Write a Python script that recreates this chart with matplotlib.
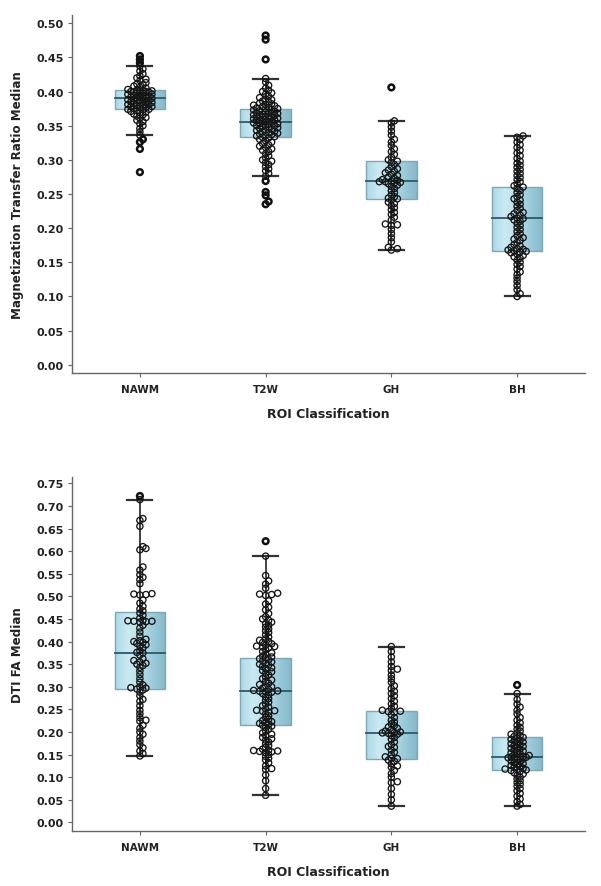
import numpy as np
import matplotlib
matplotlib.use("Agg")
import matplotlib.pyplot as plt
from matplotlib.patches import Rectangle
from matplotlib.colors import LinearSegmentedColormap

# ---------------- data ----------------
categories = ["NAWM", "T2W", "GH", "BH"]

NAWM_MTR = [0.282, 0.316, 0.326, 0.330,
            0.336, 0.341, 0.346, 0.350, 0.353, 0.356, 0.358, 0.361, 0.362, 0.364, 0.366, 0.367, 0.369,
            0.370, 0.371, 0.372, 0.373, 0.374, 0.374, 0.375, 0.376, 0.377, 0.378, 0.378, 0.379, 0.380,
            0.381, 0.381, 0.382, 0.383, 0.384, 0.384, 0.385, 0.386, 0.386, 0.387, 0.388, 0.388, 0.389,
            0.390, 0.390, 0.390, 0.391, 0.392, 0.392, 0.393, 0.394, 0.394, 0.395, 0.396, 0.396, 0.397,
            0.398, 0.398, 0.399, 0.400, 0.400, 0.400, 0.401, 0.401, 0.402, 0.402, 0.403, 0.405, 0.406,
            0.408, 0.410, 0.411, 0.413, 0.416, 0.418, 0.420, 0.423, 0.426, 0.430, 0.433, 0.437,
            0.442, 0.447, 0.452]
T2W_MTR = [0.482, 0.476, 0.447, 0.419, 0.414, 0.409, 0.405, 0.402, 0.400, 0.398, 0.396, 0.393,
           0.391, 0.389, 0.388, 0.386, 0.385, 0.383, 0.382, 0.381, 0.380, 0.379, 0.378, 0.377, 0.376,
           0.375, 0.375, 0.374, 0.373, 0.372, 0.371, 0.370, 0.370, 0.369, 0.368, 0.368, 0.367, 0.366,
           0.366, 0.365, 0.364, 0.364, 0.363, 0.362, 0.362, 0.361, 0.360, 0.360, 0.359, 0.358, 0.358,
           0.357, 0.356, 0.356, 0.355, 0.355, 0.354, 0.353, 0.353, 0.352, 0.351, 0.350, 0.350, 0.349,
           0.348, 0.347, 0.346, 0.345, 0.344, 0.343, 0.342, 0.341, 0.340, 0.339, 0.338, 0.337, 0.336,
           0.335, 0.334, 0.333, 0.332, 0.330, 0.328, 0.326, 0.324, 0.322, 0.320, 0.318, 0.316, 0.314,
           0.312, 0.309, 0.306, 0.303, 0.300, 0.298, 0.296, 0.293, 0.290, 0.287, 0.284, 0.280, 0.276,
           0.269, 0.253, 0.248, 0.239, 0.235]
GH_MTR = [0.406, 0.357, 0.354, 0.348, 0.342, 0.336, 0.330, 0.326, 0.321, 0.316, 0.312, 0.308,
          0.304, 0.300, 0.298, 0.296, 0.293, 0.290, 0.287, 0.285, 0.283, 0.281, 0.279, 0.277, 0.275,
          0.273, 0.271, 0.270, 0.269, 0.268, 0.268, 0.267, 0.266, 0.265, 0.263, 0.261, 0.258, 0.255,
          0.252, 0.249, 0.246, 0.244, 0.243, 0.241, 0.238, 0.236, 0.233, 0.230, 0.227, 0.223, 0.220,
          0.216, 0.212, 0.206, 0.205, 0.204, 0.198, 0.192, 0.186, 0.180, 0.172, 0.170, 0.168]
BH_MTR = [0.335, 0.333, 0.330, 0.326, 0.322, 0.318, 0.314, 0.310, 0.306, 0.302, 0.298, 0.295,
          0.292, 0.289, 0.286, 0.283, 0.280, 0.277, 0.274, 0.271, 0.268, 0.265, 0.262, 0.260, 0.258,
          0.255, 0.252, 0.249, 0.246, 0.243, 0.241, 0.238, 0.235, 0.232, 0.229, 0.226, 0.223, 0.221,
          0.219, 0.217, 0.215, 0.214, 0.212, 0.210, 0.207, 0.204, 0.201, 0.198, 0.195, 0.192, 0.189,
          0.186, 0.184, 0.182, 0.179, 0.176, 0.174, 0.172, 0.170, 0.169, 0.168, 0.167, 0.166, 0.165,
          0.164, 0.162, 0.160, 0.158, 0.156, 0.153, 0.150, 0.147, 0.144, 0.140, 0.136, 0.132, 0.127,
          0.122, 0.116, 0.110, 0.104, 0.100]

NAWM_FA = [0.722, 0.714, 0.672, 0.668, 0.655, 0.610, 0.606, 0.603, 0.565, 0.558, 0.548, 0.542,
           0.537, 0.528, 0.506, 0.505, 0.504, 0.503, 0.492, 0.485, 0.478, 0.472, 0.468, 0.463, 0.458,
           0.452, 0.447, 0.446, 0.445, 0.445, 0.444, 0.443, 0.436, 0.430, 0.421, 0.412, 0.405, 0.402,
           0.400, 0.398, 0.396, 0.393, 0.390, 0.386, 0.380, 0.376, 0.375, 0.370, 0.362, 0.358, 0.355,
           0.352, 0.350, 0.347, 0.343, 0.335, 0.327, 0.318, 0.310, 0.304, 0.300, 0.298, 0.297, 0.295,
           0.293, 0.288, 0.280, 0.272, 0.268, 0.258, 0.248, 0.240, 0.232, 0.226, 0.224, 0.215, 0.208,
           0.200, 0.195, 0.188, 0.180, 0.172, 0.165, 0.158, 0.152, 0.147]
T2W_FA = [0.622, 0.589, 0.546, 0.534, 0.527, 0.518, 0.507, 0.505, 0.504, 0.502, 0.490, 0.483,
          0.476, 0.470, 0.462, 0.455, 0.450, 0.447, 0.443, 0.440, 0.436, 0.432, 0.428, 0.424, 0.420,
          0.415, 0.410, 0.406, 0.403, 0.400, 0.398, 0.395, 0.392, 0.390, 0.389, 0.388, 0.386, 0.382,
          0.378, 0.375, 0.372, 0.368, 0.366, 0.364, 0.362, 0.360, 0.357, 0.355, 0.352, 0.350, 0.348,
          0.345, 0.342, 0.340, 0.336, 0.333, 0.330, 0.326, 0.322, 0.318, 0.315, 0.312, 0.308, 0.305,
          0.302, 0.300, 0.297, 0.294, 0.292, 0.291, 0.290, 0.289, 0.288, 0.285, 0.282, 0.278, 0.274,
          0.270, 0.266, 0.262, 0.258, 0.255, 0.251, 0.248, 0.247, 0.246, 0.244, 0.240, 0.236, 0.232,
          0.228, 0.225, 0.223, 0.221, 0.219, 0.217, 0.215, 0.213, 0.210, 0.206, 0.202, 0.198, 0.195,
          0.192, 0.188, 0.185, 0.182, 0.178, 0.174, 0.170, 0.166, 0.162, 0.160, 0.159, 0.158, 0.157,
          0.156, 0.154, 0.150, 0.146, 0.142, 0.138, 0.132, 0.125, 0.119, 0.117, 0.105, 0.092, 0.075,
          0.060]
GH_FA = [0.389, 0.378, 0.366, 0.355, 0.345, 0.339, 0.336, 0.326, 0.318, 0.310, 0.302, 0.296,
         0.290, 0.285, 0.280, 0.274, 0.268, 0.262, 0.257, 0.252, 0.248, 0.246, 0.245, 0.243, 0.238,
         0.232, 0.226, 0.222, 0.218, 0.214, 0.211, 0.208, 0.205, 0.202, 0.200, 0.199, 0.198, 0.197,
         0.195, 0.192, 0.188, 0.184, 0.178, 0.172, 0.168, 0.166, 0.160, 0.155, 0.150, 0.145, 0.142,
         0.141, 0.138, 0.135, 0.130, 0.125, 0.122, 0.115, 0.108, 0.100, 0.090, 0.088, 0.075, 0.062,
         0.050, 0.036]
BH_FA = [0.304, 0.285, 0.272, 0.262, 0.255, 0.248, 0.240, 0.232, 0.226, 0.220, 0.215, 0.210,
         0.206, 0.202, 0.198, 0.195, 0.192, 0.190, 0.188, 0.186, 0.184, 0.182, 0.180, 0.178, 0.176,
         0.174, 0.172, 0.170, 0.168, 0.166, 0.164, 0.162, 0.160, 0.158, 0.156, 0.154, 0.152, 0.150,
         0.148, 0.146, 0.145, 0.145, 0.144, 0.144, 0.143, 0.142, 0.140, 0.138, 0.136, 0.134, 0.132,
         0.130, 0.128, 0.126, 0.124, 0.122, 0.120, 0.118, 0.117, 0.116, 0.115, 0.113, 0.110, 0.107,
         0.104, 0.100, 0.096, 0.092, 0.088, 0.084, 0.080, 0.075, 0.070, 0.064, 0.058, 0.052, 0.046,
         0.040, 0.036]

# box statistics
MTR_q1 = [0.374, 0.333, 0.243, 0.166]
MTR_med = [0.390, 0.356, 0.269, 0.2145]
MTR_q3 = [0.4025, 0.374, 0.298, 0.260]
MTR_lo = [0.336, 0.276, 0.168, 0.100]
MTR_hi = [0.437, 0.419, 0.357, 0.335]

FA_q1 = [0.295, 0.215, 0.141, 0.116]
FA_med = [0.375, 0.291, 0.198, 0.145]
FA_q3 = [0.465, 0.364, 0.246, 0.188]
FA_lo = [0.147, 0.060, 0.036, 0.036]
FA_hi = [0.714, 0.589, 0.389, 0.285]

MTR_ticks = [0.00, 0.05, 0.10, 0.15, 0.20, 0.25, 0.30, 0.35, 0.40, 0.45, 0.50]
FA_ticks = [0.00, 0.05, 0.10, 0.15, 0.20, 0.25, 0.30, 0.35, 0.40, 0.45, 0.50, 0.55, 0.60, 0.65, 0.70, 0.75]

# ---------------- style ----------------
plt.rcParams['font.family'] = ['DejaVu Sans']
W, H = 601, 887
fig = plt.figure(figsize=(W / 100, H / 100), dpi=100)
fig.patch.set_facecolor('white')

cmap = LinearSegmentedColormap.from_list(
    "boxgrad", ["#acd8e6", "#cbeaf3", "#b9dfea", "#9ccbdb", "#86b9ca"])


def swarm(vals, x0, xpx, ypx, diam, kmax=4):
    vals = np.asarray(vals, float)
    order = np.argsort(vals)
    placed = []
    offs = np.zeros(len(vals))
    step = diam * 0.5
    thr = diam * 0.55
    cands = [0.0]
    for k in range(1, kmax + 1):
        cands += [k * step, -k * step]
    for i in order:
        y = vals[i] * ypx
        best, bestd = 0.0, -1
        for c in cands:
            md = 1e9
            for (px, py) in placed:
                if abs(py - y) < thr:
                    d = ((px - c) ** 2 + (py - y) ** 2) ** 0.5
                    md = min(md, d)
            if md >= thr:
                best = c
                break
            if md > bestd + 0.8:
                best, bestd = c, md
        placed.append((best, y))
        offs[i] = best / xpx
    return x0 + offs


def panel(ax, groups, q1, med, q3, lo, hi, ticks, ylim, ylabel, ypx):
    xpx = 125.5
    bw = 0.40
    cw = 0.20
    grad = np.linspace(0, 1, 64).reshape(1, -1)
    for i, vals in enumerate(groups):
        rect = Rectangle((i - bw / 2, q1[i]), bw, q3[i] - q1[i], facecolor='none',
                         edgecolor='#7fa8b5', lw=1.0, zorder=3)
        im = ax.imshow(grad, cmap=cmap, aspect='auto',
                       extent=[i - bw / 2, i + bw / 2, q1[i], q3[i]], zorder=1)
        ax.add_patch(rect)
        im.set_clip_path(rect)
        ax.plot([i - bw / 2, i + bw / 2], [med[i], med[i]], color='#2e5966', lw=1.3, zorder=3)
        ax.plot([i, i], [q3[i], hi[i]], color='#222222', lw=1.2, zorder=2)
        ax.plot([i, i], [lo[i], q1[i]], color='#222222', lw=1.2, zorder=2)
        ax.plot([i - cw / 2, i + cw / 2], [hi[i], hi[i]], color='#333333', lw=1.6, zorder=2)
        ax.plot([i - cw / 2, i + cw / 2], [lo[i], lo[i]], color='#333333', lw=1.6, zorder=2)
        v = np.asarray(vals)
        xs = swarm(v, i, xpx, ypx, 6.0)
        out = (v > hi[i] + 1e-9) | (v < lo[i] - 1e-9)
        ax.scatter(xs[~out], v[~out], s=20, facecolors='none', edgecolors='#151515',
                   linewidths=0.95, zorder=4)
        ax.scatter(xs[out], v[out], s=17, facecolors='none', edgecolors='#111111',
                   linewidths=1.8, zorder=4)

    ax.set_xlim(-0.54, 3.54)
    ax.set_ylim(*ylim)
    ax.set_xticks(range(4))
    ax.set_xticklabels(categories, fontsize=7.5, fontweight='bold', color='#222222')
    ax.set_yticks(ticks)
    ax.set_yticklabels([f"{t:.2f}" for t in ticks], fontsize=8, fontweight='bold',
                       color='#222222')
    for s in ['top', 'right']:
        ax.spines[s].set_visible(False)
    for s in ['left', 'bottom']:
        ax.spines[s].set_color('#666666')
        ax.spines[s].set_linewidth(1.0)
    ax.tick_params(axis='both', direction='out', length=3, width=0.8, color='#666666', pad=3)
    ax.tick_params(axis='x', pad=5)
    ax.set_xlabel("ROI Classification", fontsize=9, fontweight='bold', color='#222222', labelpad=9)
    ax.set_ylabel(ylabel, fontsize=8.6, fontweight='bold', color='#222222', labelpad=9)


ax1 = fig.add_axes([72 / W, 1 - 374 / H, 513 / W, (374 - 16) / H])
panel(ax1, [NAWM_MTR, T2W_MTR, GH_MTR, BH_MTR], MTR_q1, MTR_med, MTR_q3, MTR_lo, MTR_hi,
      MTR_ticks, (-0.012, 0.512), "Magnetization Transfer Ratio Median", 684.0)

ax2 = fig.add_axes([72 / W, 1 - 832 / H, 513 / W, (832 - 478) / H])
panel(ax2, [NAWM_FA, T2W_FA, GH_FA, BH_FA], FA_q1, FA_med, FA_q3, FA_lo, FA_hi,
      FA_ticks, (-0.019, 0.764), "DTI FA Median", 452.0)

fig.savefig("out.png", dpi=100, facecolor='white')
